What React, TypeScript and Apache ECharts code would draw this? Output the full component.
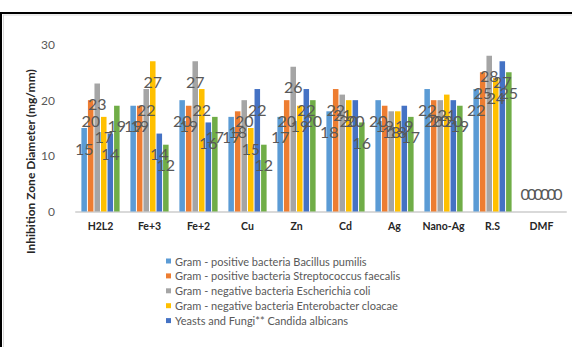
import React, { useEffect, useRef } from 'react';
import * as echarts from 'echarts';

const categories = ['H2L2', 'Fe+3', 'Fe+2', 'Cu', 'Zn', 'Cd', 'Ag', 'Nano-Ag', 'R.S', 'DMF'];
const bacillusPumilis = [15, 19, 20, 17, 17, 18, 20, 22, 22, 0];
const streptococcusFaecalis = [20, 19, 19, 18, 20, 22, 19, 20, 25, 0];
const escherichiaColi = [23, 22, 27, 20, 26, 21, 18, 20, 28, 0];
const enterobacterCloacae = [17, 27, 22, 15, 19, 20, 18, 21, 24, 0];
const candidaAlbicans = [14, 14, 16, 22, 22, 20, 19, 20, 27, 0];
const sixthSeries = [19, 12, 17, 12, 20, 16, 17, 19, 25, 0];

const seriesNames = [
  'Gram - positive bacteria Bacillus pumilis',
  'Gram - positive bacteria Streptococcus faecalis',
  'Gram - negative bacteria Escherichia coli',
  'Gram - negative bacteria Enterobacter cloacae',
  'Yeasts and Fungi** Candida albicans',
  'Series 6',
];
const seriesValues = [
  bacillusPumilis,
  streptococcusFaecalis,
  escherichiaColi,
  enterobacterCloacae,
  candidaAlbicans,
  sixthSeries,
];
const seriesColors = ['#5B9BD5', '#ED7D31', '#A5A5A5', '#FFC000', '#4472C4', '#70AD47'];
const yTicks = { min: 0, max: 30, interval: 10 };
const yTitle = 'Inhibition Zone Diameter (mg/mm)';

export default function App() {
  const ref = useRef<HTMLDivElement>(null);
  useEffect(() => {
    document.body.style.margin = '0';
    if (!ref.current) return;
    const chart = echarts.init(ref.current, undefined, { renderer: 'svg' });
    chart.setOption({
      animation: false,
      backgroundColor: '#ffffff',
      grid: { left: 76, right: 6, top: 44.5, bottom: 135.5, containLabel: false },
      legend: {
        data: seriesNames.slice(0, 5),
        orient: 'vertical',
        left: 166,
        top: 255,
        icon: 'rect',
        itemWidth: 5,
        itemHeight: 5,
        itemGap: 2.9,
        textStyle: { fontFamily: 'Lato', fontSize: 11, color: '#595959', lineHeight: 12, padding: [0, 0, 0, -1] },
        padding: 0,
      },
      xAxis: {
        type: 'category',
        data: categories,
        axisLine: { lineStyle: { color: '#d9d9d9', width: 2 } },
        axisTick: { show: false },
        axisLabel: {
          interval: 0,
          fontFamily: 'Lato',
          fontWeight: 'bold',
          fontSize: 10.5,
          color: '#262626',
          margin: 9,
        },
      },
      yAxis: {
        type: 'value',
        min: yTicks.min,
        max: yTicks.max,
        interval: yTicks.interval,
        splitLine: { show: false },
        axisLine: { show: false },
        axisLabel: { fontFamily: 'Lato', fontSize: 12, color: '#595959', margin: 21 },
      },
      graphic: [
        {
          type: 'line',
          shape: { x1: 0, y1: 13, x2: 572, y2: 13 },
          style: { stroke: '#000000', lineWidth: 2 },
        },
        {
          type: 'line',
          shape: { x1: 1, y1: 12, x2: 1, y2: 347 },
          style: { stroke: '#000000', lineWidth: 2 },
        },
        {
          type: 'line',
          shape: { x1: 3, y1: 15, x2: 572, y2: 15 },
          style: { stroke: '#d9d9d9', lineWidth: 1 },
        },
        {
          type: 'line',
          shape: { x1: 3.5, y1: 15, x2: 3.5, y2: 347 },
          style: { stroke: '#d9d9d9', lineWidth: 1 },
        },
        {
          type: 'text',
          x: 30,
          y: 254,
          rotation: Math.PI / 2,
          style: {
            text: yTitle,
            font: 'bold 12px Lato',
            fill: '#262626',
            align: 'left',
            verticalAlign: 'middle',
          },
        },
      ],
      series: seriesValues.map((vals, i) => ({
        type: 'bar',
        name: seriesNames[i],
        barCategoryGap: '22%',
        barGap: '18%',
        itemStyle: { color: seriesColors[i] },
        label: {
          show: true,
          position: 'insideTop',
          distance: 12,
          fontFamily: 'Lato',
          fontSize: 16,
          color: '#595959',
        },
        data: vals.map((v) =>
          v === 0 ? { value: v, label: { position: 'top', distance: 10 } } : v
        ),
      })),
    });
    return () => chart.dispose();
  }, []);
  return <div ref={ref} style={{ width: 572, height: 347 }} />;
}
